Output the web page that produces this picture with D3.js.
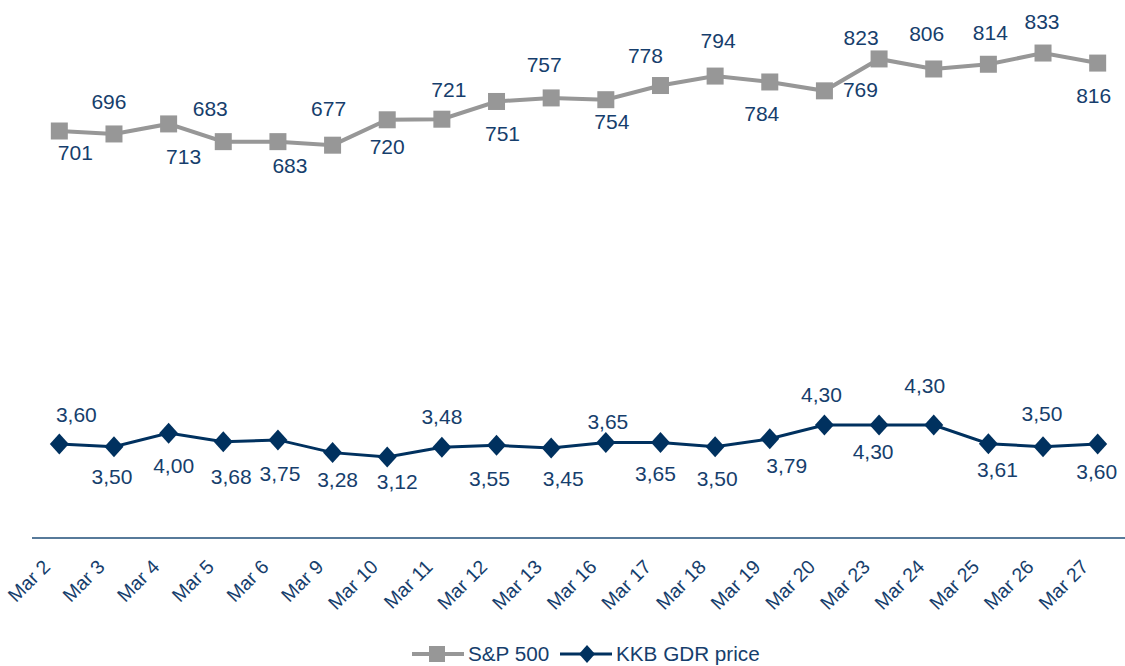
<!DOCTYPE html>
<html>
<head>
<meta charset="utf-8">
<script src="https://cdn.jsdelivr.net/npm/d3@7"></script>
<style>
  body { margin: 0; background: #fff; }
  svg { display: block; font-family: "Liberation Sans", Arial, sans-serif; }
</style>
</head>
<body>
<div class="chart"></div>
<script>
var width = 1125
var height = 666

var dates = ["Mar 2", "Mar 3", "Mar 4", "Mar 5", "Mar 6", "Mar 9", "Mar 10", "Mar 11", "Mar 12", "Mar 13",
             "Mar 16", "Mar 17", "Mar 18", "Mar 19", "Mar 20", "Mar 23", "Mar 24", "Mar 25", "Mar 26", "Mar 27"]
var spx = [701, 696, 713, 683, 683, 677, 720, 721, 751, 757, 754, 778, 794, 784, 769, 823, 806, 814, 833, 816]
var kkb = [3.60, 3.50, 4.00, 3.68, 3.75, 3.28, 3.12, 3.48, 3.55, 3.45, 3.65, 3.65, 3.50, 3.79, 4.30, 4.30, 4.30, 3.61, 3.50, 3.60]
var seriesNames = ["S&P 500", "KKB GDR price"]

// where each data label sits relative to its point (dx, dy in px), as placed in the original
var spxLabelPos = [[16,21],[-5,-33],[15,33],[-13,-33],[12,24],[-4,-37],[0,27],[7,-30],[6,32],[-7,-33],
                   [6,22],[-15,-30],[3,-36],[-8,31],[36,-1],[-18,-22],[-7,-36],[2,-32],[-1,-32],[-4,32]]
var kkbLabelPos = [[17,-30],[-2,30],[5,32],[8,35],[2,34],[5,27],[10,24],[0,-31],[-7,33],[12,30],
                   [2,-21],[-5,31],[2,32],[17,27],[-3,-31],[-6,26],[-9,-40],[9,26],[-1,-33],[-1,27]]

var textColor = "#163e6c"
var navy = "#00315f"
var gray = "#979797"

var svg = d3.select(".chart").append("svg")
    .attr("width", width)
    .attr("height", height)

var x = d3.scaleBand().domain(dates).range([32, 1125])
var xc = function(d){ return x(d) + x.bandwidth() / 2 }

// two value axes (hidden), like a primary/secondary axis chart
var y1 = d3.scaleLinear().domain([700, 840]).range([131.6, 48.9])
var y2 = d3.scaleLinear().domain([3, 4.5]).range([460.2, 419.6])

// category axis line
svg.append("line")
    .attr("x1", 32).attr("x2", 1125)
    .attr("y1", 538).attr("y2", 538)
    .attr("stroke", "#1f4e79")
    .attr("stroke-width", 1.3)

svg.append("g").selectAll("text")
    .data(dates)
    .enter().append("text")
    .attr("transform", function(d){ return "translate(" + (xc(d) - 8) + ",568) rotate(-45)" })
    .attr("text-anchor", "end")
    .attr("font-size", 19.5)
    .attr("fill", textColor)
    .text(function(d){ return d })

// S&P 500
var line1 = d3.line()
    .x(function(d, i){ return xc(dates[i]) })
    .y(function(d){ return y1(d) })

svg.append("path")
    .datum(spx)
    .attr("d", line1)
    .attr("fill", "none")
    .attr("stroke", gray)
    .attr("stroke-width", 4)

svg.append("g").selectAll("rect")
    .data(spx)
    .enter().append("rect")
    .attr("x", function(d, i){ return xc(dates[i]) - 8.5 })
    .attr("y", function(d){ return y1(d) - 8.5 })
    .attr("width", 17)
    .attr("height", 17)
    .attr("fill", gray)

svg.append("g").selectAll("text")
    .data(spx)
    .enter().append("text")
    .attr("x", function(d, i){ return xc(dates[i]) + spxLabelPos[i][0] })
    .attr("y", function(d, i){ return y1(d) + spxLabelPos[i][1] })
    .attr("dy", "0.36em")
    .attr("text-anchor", "middle")
    .attr("font-size", 21)
    .attr("fill", textColor)
    .text(function(d){ return d })

// KKB GDR
var line2 = d3.line()
    .x(function(d, i){ return xc(dates[i]) })
    .y(function(d){ return y2(d) })

svg.append("path")
    .datum(kkb)
    .attr("d", line2)
    .attr("fill", "none")
    .attr("stroke", navy)
    .attr("stroke-width", 3)

var diamond = "M0,-10.5L9.5,0L0,10.5L-9.5,0Z"

svg.append("g").selectAll("path")
    .data(kkb)
    .enter().append("path")
    .attr("transform", function(d, i){ return "translate(" + xc(dates[i]) + "," + y2(d) + ")" })
    .attr("d", diamond)
    .attr("fill", navy)

var fmt = function(d){ return d3.format(".2f")(d).replace(".", ",") }

svg.append("g").selectAll("text")
    .data(kkb)
    .enter().append("text")
    .attr("x", function(d, i){ return xc(dates[i]) + kkbLabelPos[i][0] })
    .attr("y", function(d, i){ return y2(d) + kkbLabelPos[i][1] })
    .attr("dy", "0.36em")
    .attr("text-anchor", "middle")
    .attr("font-size", 21)
    .attr("fill", textColor)
    .text(function(d){ return fmt(d) })

// legend
var legend = svg.append("g").attr("transform", "translate(412,654)")

var items = [
  {name: seriesNames[0], color: gray, w: 4, x: 0},
  {name: seriesNames[1], color: navy, w: 3, x: 148}
]

items.forEach(function(it, i){
  var g = legend.append("g").attr("transform", "translate(" + it.x + ",0)")
  g.append("line")
    .attr("x1", 0).attr("x2", 52)
    .attr("stroke", it.color)
    .attr("stroke-width", it.w)
  if(i == 0){
    g.append("rect").attr("x", 17).attr("y", -8).attr("width", 16).attr("height", 16).attr("fill", it.color)
  }else{
    g.append("path").attr("transform", "translate(27,0)").attr("d", "M0,-9L8,0L0,9L-8,0Z").attr("fill", it.color)
  }
  g.append("text")
    .attr("x", 56)
    .attr("dy", "0.35em")
    .attr("font-size", 20.7)
    .attr("fill", textColor)
    .text(it.name)
})
</script>
</body>
</html>
